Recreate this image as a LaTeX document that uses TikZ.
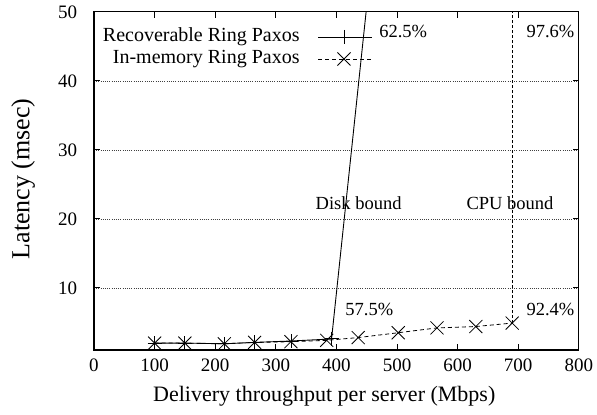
\documentclass[tikz,border=0pt]{standalone}
\usepackage{fontspec}
\setmainfont{Liberation Serif}
\usepackage{tikz}

\begin{document}
\begin{tikzpicture}[x=0.606pt, y=6.9pt, >=stealth, font=\fontsize{19}{22}\selectfont]
    \useasboundingbox (-155.1,-8.42) rectangle (830,51.72);

    % grid and ticks
    \foreach \y in {10,20,30,40}
        \draw[black!75, line width=0.6pt, dash pattern=on 1pt off 1.2pt] (0,\y) -- (800,\y);
    \foreach \x in {100,200,...,700}
        \draw[line width=0.8pt] (\x,1) -- ++(0,6pt) (\x,50) -- ++(0,-6pt);
    \foreach \y in {10,20,30,40,50}
        \draw[line width=0.8pt] (0,\y) -- ++(6pt,0) (800,\y) -- ++(-6pt,0);
    \draw[line width=1.2pt] (0,1) rectangle (800,50);

    \foreach \x in {0,100,...,800}
        \node (xt\x) at (\x,-1.2) {\x};
    \foreach \y in {10,20,...,50}
        \node[anchor=east] (yt\y) at (-22,\y) {\y};

    \node[font=\fontsize{22}{26}\selectfont] (xlab) at (380,-5.67) {Delivery throughput per server (Mbps)};
    \node[font=\fontsize{26}{30}\selectfont, rotate=90] (ylab) at (-117,25.8) {Latency (msec)};

    % in-memory
    \draw[line width=0.8pt, dash pattern=on 4pt off 3pt] plot[mark=x, mark size=9.2pt, mark options={solid}] coordinates {
        (100,2.0) (150,2.0) (215,1.9) (265,2.1) (325,2.2) (384,2.4)
        (436,2.8) (502,3.5) (566,4.2) (630,4.4) (690,4.9)};
    % recoverable
    \draw[line width=0.9pt] plot[mark=+, mark size=7pt] coordinates {
        (100,2.0) (150,2.0) (215,1.9) (265,2.1) (325,2.3) (392,2.6)};
    \draw[line width=0.9pt] (392,2.6) -- (449,50);
    \draw[line width=0.7pt, dash pattern=on 3pt off 2pt] (690,4.9) -- (690,50);

    % legend
    \node[anchor=east, font=\fontsize{20}{24}\selectfont] (leg1) at (345,46.36) {Recoverable Ring Paxos};
    \node[anchor=east, font=\fontsize{20}{24}\selectfont] (leg2) at (345,43.17) {In-memory Ring Paxos};
    \draw[line width=0.9pt] plot[mark=+, mark size=7pt, mark indices={2}] coordinates {(370,46.36) (412.5,46.36) (459,46.36)};
    \draw[line width=0.8pt, dash pattern=on 4pt off 3pt] plot[mark=x, mark size=9.2pt, mark options={solid}, mark indices={2}] coordinates {(370,43.17) (412.5,43.17) (459,43.17)};

    % annotations
    \node[anchor=west, font=\fontsize{18.5}{22}\selectfont] (p625) at (465,47.1) {62.5\%};
    \node[anchor=west, font=\fontsize{18.5}{22}\selectfont] (p976) at (708,47.1) {97.6\%};
    \node[anchor=west, font=\fontsize{18.5}{22}\selectfont] (p575) at (409,6.8) {57.5\%};
    \node[anchor=west, font=\fontsize{18.5}{22}\selectfont] (p924) at (708,6.8) {92.4\%};
    \node[anchor=west, font=\fontsize{18.5}{22}\selectfont] (disk) at (360,22.3) {Disk bound};
    \node[anchor=west, font=\fontsize{18.5}{22}\selectfont] (cpu) at (609,22.3) {CPU bound};
\end{tikzpicture}
\end{document}
